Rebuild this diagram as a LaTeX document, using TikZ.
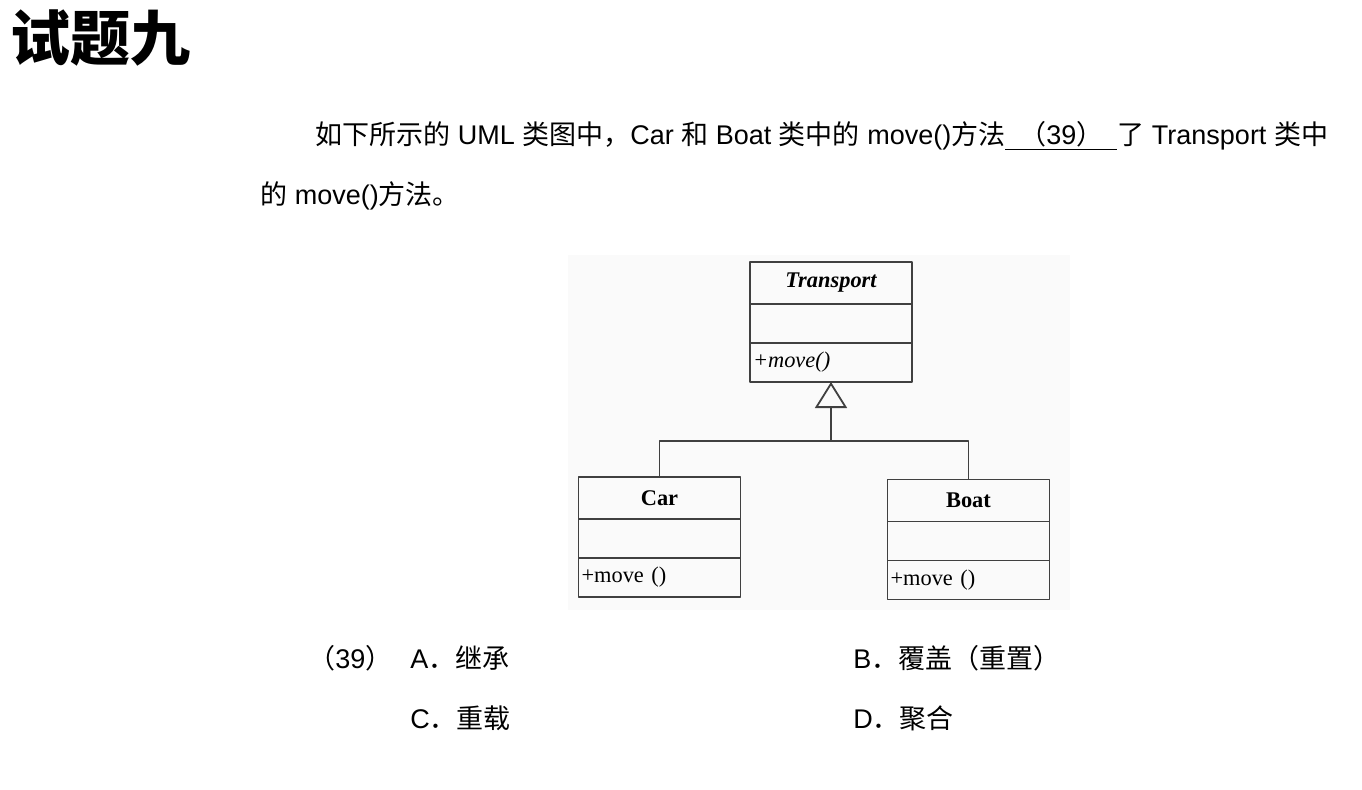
\documentclass[tikz,border=0pt]{standalone}
\usepackage{fontspec}
\setmainfont{Liberation Sans}
\newfontfamily\cjk{Noto Sans CJK SC}
\newfontfamily\tms{Liberation Serif}
\usetikzlibrary{positioning,arrows.meta}
\newcommand{\zh}[1]{{\cjk #1}}

\begin{document}
\begin{tikzpicture}[x=0.5pt, y=-0.5pt, line join=round,
    font=\fontsize{13.5pt}{15pt}\selectfont,
    txt/.style={anchor=west, inner sep=0pt},
    uml/.style={draw=black!75, line width=0.9pt, minimum width=81pt, inner sep=0pt, outer sep=0pt,
      font=\tms\fontsize{11.2pt}{13pt}\selectfont},
    head/.style={uml, minimum height=21pt, font=\tms\bfseries\fontsize{11.2pt}{13pt}\selectfont},
    attr/.style={uml, minimum height=19.5pt},
    meth/.style={uml, minimum height=19.5pt, text width=78pt, align=left, inner xsep=1.5pt},
    link/.style={draw=black!75, line width=0.9pt}]
  \useasboundingbox (0,0) rectangle (1362,789);
  \fill[white] (0,0) rectangle (1362,789);
  \fill[black!2] (568,255) rectangle (1070,610);

  % title and question
  \node[txt, font=\cjk\bfseries\fontsize{30pt}{32pt}\selectfont] (title) at (10,38) {试题九};
  \node[txt] (q1) at (315,136) {\zh{如下所示的} UML \zh{类图中，}Car \zh{和} Boat \zh{类中的} move()\zh{方法}\underline{\makebox[56pt]{\zh{（}39\zh{）}}}\zh{了} Transport \zh{类中}};
  \node[txt] (q2) at (260,196) {\zh{的} move()\zh{方法。}};

  % classes
  \node[head, font=\tms\bfseries\itshape\fontsize{11.2pt}{13pt}\selectfont] (tr) at (831,283) {Transport};
  \node[attr, below=0pt of tr] (tr-a) {};
  \node[meth, below=0pt of tr-a] (tr-m) {\itshape +move()};

  \node[head] (car) at (659.5,498) {Car};
  \node[attr, below=0pt of car] (car-a) {};
  \node[meth, below=0pt of car-a] (car-m) {+move ()};

  \node[head] (boat) at (968.5,500.5) {Boat};
  \node[attr, below=0pt of boat] (boat-a) {};
  \node[meth, below=0pt of boat-a] (boat-m) {+move ()};

  % generalisation
  \coordinate (fork) at (831,441);
  \draw[link] (car.north) |- (fork) -| (boat.north);
  \draw[link, -{Triangle[open, length=13pt, width=16pt]}] (fork) -- (tr-m.south);

  % answers
  \node[txt] (q39) at (308,658) {\zh{（}39\zh{）}};
  \node[txt] (optA) at (410,658) {A\zh{．继承}};
  \node[txt] (optB) at (853,658) {B\zh{．覆盖（重置）}};
  \node[txt] (optC) at (410,718) {C\zh{．重载}};
  \node[txt] (optD) at (853,718) {D\zh{．聚合}};
\end{tikzpicture}
\end{document}
